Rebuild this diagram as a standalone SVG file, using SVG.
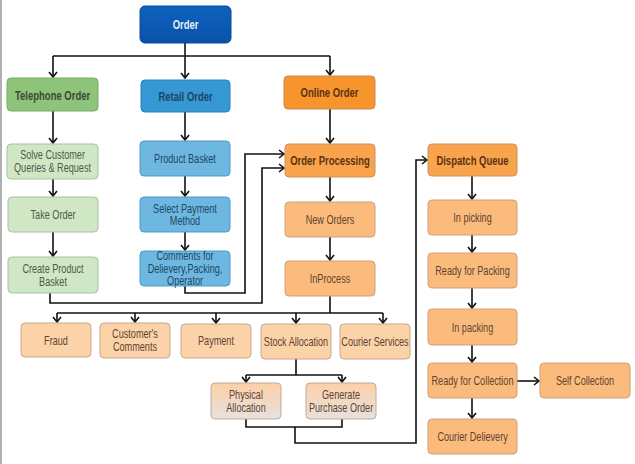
<svg xmlns="http://www.w3.org/2000/svg" width="635" height="464" viewBox="0 0 635 464">
<defs>
<marker id="ah" markerWidth="10" markerHeight="10" refX="7" refY="5" orient="auto" markerUnits="userSpaceOnUse">
<path d="M2,1 L7,5 L2,9" fill="none" stroke="#111" stroke-width="1.6"/>
</marker>
<linearGradient id="gOrder" x1="0" y1="0" x2="0" y2="1"><stop offset="0" stop-color="#0e62c0"/><stop offset="1" stop-color="#0a52a8"/></linearGradient>
<linearGradient id="gPhys" x1="0" y1="0" x2="0" y2="1"><stop offset="0" stop-color="#fcd0a6"/><stop offset="1" stop-color="#e6e2df"/></linearGradient>
</defs>
<style>
text{font-family:"Liberation Sans",Arial,sans-serif;font-size:12px;text-anchor:middle;dominant-baseline:central;transform-box:fill-box;transform-origin:center;transform:scaleX(0.76)}
.b{font-weight:bold;font-size:13px;transform:scaleX(0.73)}
rect{stroke-width:1}
.ord{fill:url(#gOrder);stroke:#0a4a98}
.tel{fill:#8dc47a;stroke:#79ab69}
.ret{fill:#3598d3;stroke:#2b80b5}
.onl{fill:#f7952c;stroke:#c98b54}
.lg{fill:#d0e7c5;stroke:#a9c29f}
.lb{fill:#6db7e0;stroke:#4e9bc5}
.op{fill:#f9a44d;stroke:#c99262}
.mo{fill:#fbbb7c;stroke:#cf9f78}
.po{fill:#fcd2a9;stroke:#c9a68b}
.ph{fill:url(#gPhys);stroke:#c0aa9a}
.tw{fill:#e6eefa}
.tg{fill:#3a4834}
.tgl{fill:#4d5a48}
.tb{fill:#1f4563}
.tbl{fill:#1e4866}
.to{fill:#5a3212}
.tol{fill:#5e4432}
.conn path{fill:none;stroke:#111;stroke-width:1.6}
</style>
<line x1="1" y1="0" x2="1" y2="464" stroke="#b0b0b0" stroke-width="2"/>

<g class="conn">
<path d="M185,43 V78" marker-end="url(#ah)"/>
<path d="M53,56 H330 M53,56 V77" marker-end="url(#ah)"/>
<path d="M330,56 V75" marker-end="url(#ah)"/>
<path d="M53,111 V143" marker-end="url(#ah)"/>
<path d="M53,179 V196" marker-end="url(#ah)"/>
<path d="M53,232 V256" marker-end="url(#ah)"/>
<path d="M185,112 V140" marker-end="url(#ah)"/>
<path d="M185,176 V196" marker-end="url(#ah)"/>
<path d="M185,232 V250" marker-end="url(#ah)"/>
<path d="M185,286 V293 H245 V154 H284" marker-end="url(#ah)"/>
<path d="M50,293 V303 H262 V168 H284" marker-end="url(#ah)"/>
<path d="M330,109 V143" marker-end="url(#ah)"/>
<path d="M330,177 V201" marker-end="url(#ah)"/>
<path d="M330,237 V260" marker-end="url(#ah)"/>
<path d="M330,296 V313 M57,313 H383"/>
<path d="M57,313 V322" marker-end="url(#ah)"/>
<path d="M135,313 V322" marker-end="url(#ah)"/>
<path d="M216,313 V323" marker-end="url(#ah)"/>
<path d="M296,313 V323" marker-end="url(#ah)"/>
<path d="M383,313 V323" marker-end="url(#ah)"/>
<path d="M296,359 V375 M246,375 H342"/>
<path d="M246,375 V382" marker-end="url(#ah)"/>
<path d="M342,375 V382" marker-end="url(#ah)"/>
<path d="M246,419 V427 H342 V419"/>
<path d="M295,427 V443 H416 V160 H427" marker-end="url(#ah)"/>
<path d="M472,176 V199" marker-end="url(#ah)"/>
<path d="M472,235 V252" marker-end="url(#ah)"/>
<path d="M472,288 V308" marker-end="url(#ah)"/>
<path d="M472,345 V362" marker-end="url(#ah)"/>
<path d="M472,398 V418" marker-end="url(#ah)"/>
<path d="M517,381 H539" marker-end="url(#ah)"/>
</g>

<g id="order"><rect class="ord" x="140" y="6" width="91" height="37" rx="5"/><text class="b tw" x="185.5" y="24.5">Order</text></g>
<g id="telephone-order"><rect class="tel" x="7" y="78" width="91" height="33" rx="4"/><text class="b tg" x="52.5" y="95">Telephone Order</text></g>
<g id="retail-order"><rect class="ret" x="141" y="80" width="89" height="32" rx="4"/><text class="b tb" x="185.5" y="96">Retail Order</text></g>
<g id="online-order"><rect class="onl" x="284" y="76" width="91" height="33" rx="4"/><text class="b to" x="329.5" y="92.5">Online Order</text></g>

<g id="solve-customer"><rect class="lg" x="7" y="144" width="91" height="35" rx="4"/><text class="tgl" x="52.5" y="155">Solve Customer</text><text class="tgl" x="52.5" y="168">Queries &amp; Request</text></g>
<g id="take-order"><rect class="lg" x="8" y="197" width="90" height="35" rx="4"/><text class="tgl" x="53" y="214.5">Take Order</text></g>
<g id="create-product-basket"><rect class="lg" x="8" y="257" width="90" height="36" rx="4"/><text class="tgl" x="53" y="268.5">Create Product</text><text class="tgl" x="53" y="281.5">Basket</text></g>

<g id="product-basket"><rect class="lb" x="140" y="141" width="90" height="35" rx="4"/><text class="tbl" x="185" y="158.5">Product Basket</text></g>
<g id="select-payment"><rect class="lb" x="140" y="197" width="90" height="35" rx="4"/><text class="tbl" x="185" y="208.5">Select Payment</text><text class="tbl" x="185" y="221">Method</text></g>
<g id="comments"><rect class="lb" x="140" y="251" width="90" height="35" rx="4"/><text class="tbl" x="185" y="256">Comments for</text><text class="tbl" x="185" y="268.5">Delievery,Packing,</text><text class="tbl" x="185" y="281">Operator</text></g>

<g id="order-processing"><rect class="op" x="285" y="144" width="90" height="33" rx="4"/><text class="b to" x="330" y="160.5">Order Processing</text></g>
<g id="new-orders"><rect class="mo" x="285" y="202" width="90" height="35" rx="4"/><text class="tol" x="330" y="219.5">New Orders</text></g>
<g id="inprocess"><rect class="mo" x="285" y="261" width="90" height="35" rx="4"/><text class="tol" x="330" y="278.5">InProcess</text></g>

<g id="fraud"><rect class="po" x="21" y="323" width="70" height="34" rx="4"/><text class="tol" x="56" y="340">Fraud</text></g>
<g id="customers-comments"><rect class="po" x="100" y="323" width="70" height="35" rx="4"/><text class="tol" x="135" y="334">Customer's</text><text class="tol" x="135" y="347">Comments</text></g>
<g id="payment"><rect class="po" x="181" y="324" width="70" height="34" rx="4"/><text class="tol" x="216" y="341">Payment</text></g>
<g id="stock-allocation"><rect class="po" x="261" y="324" width="70" height="35" rx="4"/><text class="tol" x="296" y="341.5">Stock Allocation</text></g>
<g id="courier-services"><rect class="po" x="340" y="324" width="70" height="35" rx="4"/><text class="tol" x="375" y="341.5">Courier Services</text></g>

<g id="physical-allocation"><rect class="ph" x="211" y="383" width="70" height="36" rx="4"/><text class="tol" x="246" y="395">Physical</text><text class="tol" x="246" y="408">Allocation</text></g>
<g id="generate-purchase-order"><rect class="ph" x="306" y="383" width="70" height="36" rx="4"/><text class="tol" x="341" y="395">Generate</text><text class="tol" x="341" y="408">Purchase Order</text></g>

<g id="dispatch-queue"><rect class="op" x="428" y="144" width="89" height="32" rx="4"/><text class="b to" x="472.5" y="160">Dispatch Queue</text></g>
<g id="in-picking"><rect class="mo" x="428" y="200" width="89" height="35" rx="4"/><text class="tol" x="472.5" y="217.5">In picking</text></g>
<g id="ready-for-packing"><rect class="mo" x="428" y="253" width="89" height="35" rx="4"/><text class="tol" x="472.5" y="270.5">Ready for Packing</text></g>
<g id="in-packing"><rect class="mo" x="428" y="309" width="89" height="36" rx="4"/><text class="tol" x="472.5" y="327">In packing</text></g>
<g id="ready-for-collection"><rect class="mo" x="428" y="363" width="89" height="35" rx="4"/><text class="tol" x="472.5" y="380.5">Ready for Collection</text></g>
<g id="self-collection"><rect class="mo" x="540" y="363" width="90" height="35" rx="4"/><text class="tol" x="585" y="380.5">Self Collection</text></g>
<g id="courier-delievery"><rect class="mo" x="428" y="419" width="89" height="35" rx="4"/><text class="tol" x="472.5" y="437">Courier Delievery</text></g>
</svg>
